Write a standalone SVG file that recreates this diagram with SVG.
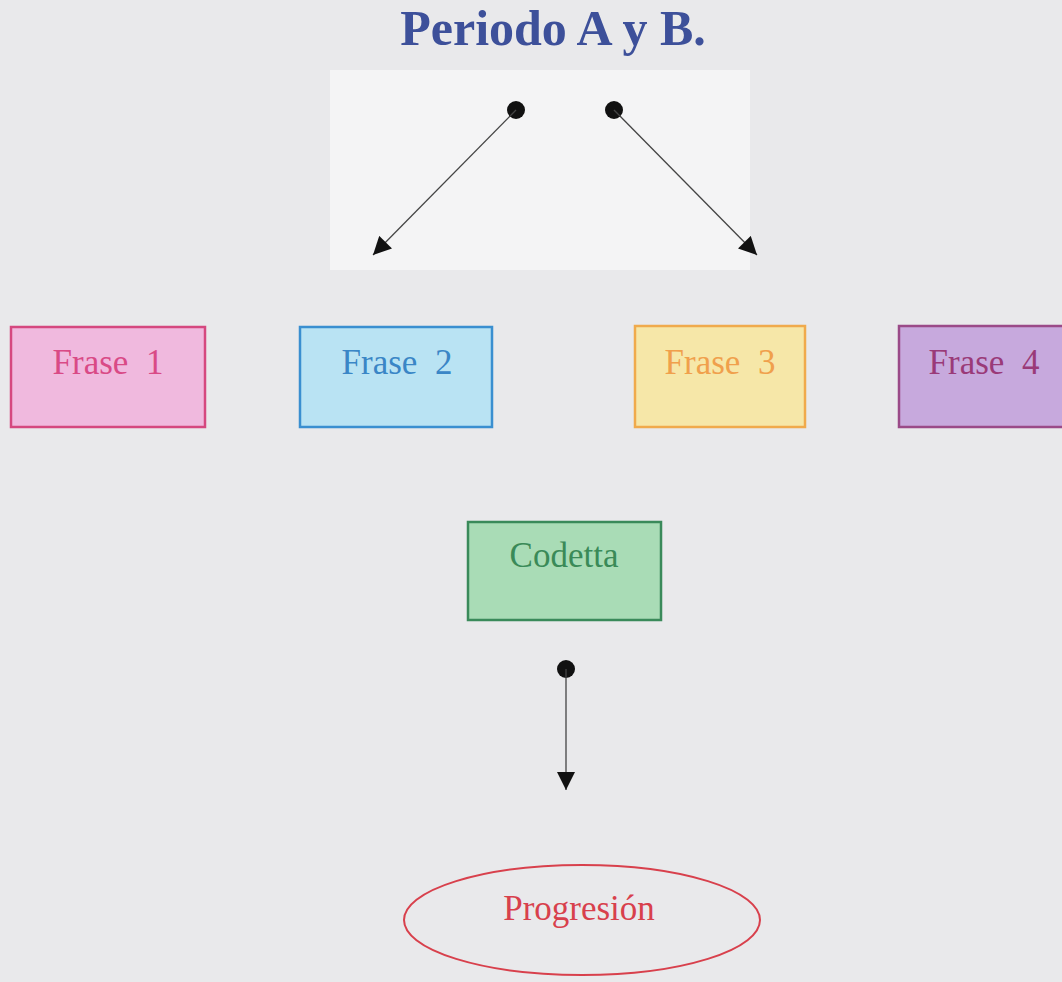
<svg xmlns="http://www.w3.org/2000/svg" width="1062" height="982" viewBox="0 0 1062 982">
<defs>
<marker id="ah" viewBox="0 0 10 10" refX="10" refY="5" markerWidth="20" markerHeight="18" markerUnits="userSpaceOnUse" orient="auto">
<path d="M0,0 L10,5 L0,10 z" fill="#111"/>
</marker>
<style>
.t{font-family:"Liberation Serif","Times New Roman",serif;font-size:35px;text-anchor:middle;white-space:pre}
.c{stroke:#444;stroke-width:1.3;fill:none;marker-end:url(#ah)}
.dot{fill:#111}
</style>
</defs>
<rect width="1062" height="982" fill="#e9e9eb"/>
<rect x="330" y="70" width="420" height="200" fill="#f4f4f5"/>
<text id="title" x="553" y="45" font-family="'Liberation Serif','Times New Roman',serif" font-size="50" font-weight="bold" fill="#3d509a" text-anchor="middle">Periodo A y B.</text>
<g id="connectors">
<circle class="dot" cx="516" cy="110" r="9"/>
<circle class="dot" cx="614" cy="110" r="9"/>
<line class="c" x1="516" y1="110" x2="373" y2="255"/>
<line class="c" x1="614" y1="110" x2="757" y2="255"/>
<circle class="dot" cx="566" cy="669" r="9"/>
<line class="c" x1="566" y1="669" x2="566" y2="790"/>
</g>
<g id="frase1">
<rect x="11" y="327" width="194" height="100" fill="#f0b9de" stroke="#d5487f" stroke-width="2.5"/>
<text class="t" x="108" y="374" fill="#d94a86">Frase  1</text>
</g>
<g id="frase2">
<rect x="300" y="327" width="192" height="100" fill="#b9e3f3" stroke="#3a8fd0" stroke-width="2.5"/>
<text class="t" x="397" y="374" fill="#3a86c6">Frase  2</text>
</g>
<g id="frase3">
<rect x="635" y="326" width="170" height="101" fill="#f6e7a8" stroke="#f0aa4c" stroke-width="2.5"/>
<text class="t" x="720" y="374" fill="#f0a04c">Frase  3</text>
</g>
<g id="frase4">
<rect x="899" y="326" width="170" height="101" fill="#c7a9dd" stroke="#9a4a88" stroke-width="2.5"/>
<text class="t" x="984" y="374" fill="#9a3a78">Frase  4</text>
</g>
<g id="codetta">
<rect x="468" y="522" width="193" height="98" fill="#a9dcb6" stroke="#3a8a5a" stroke-width="2.5"/>
<text class="t" x="564" y="567" font-size="38" fill="#3a8a58">Codetta</text>
</g>
<g id="progresion">
<ellipse cx="582" cy="920" rx="178" ry="55" fill="none" stroke="#d8404c" stroke-width="2"/>
<text class="t" x="579" y="920" font-size="37" fill="#d8404c">Progresión</text>
</g>
</svg>
